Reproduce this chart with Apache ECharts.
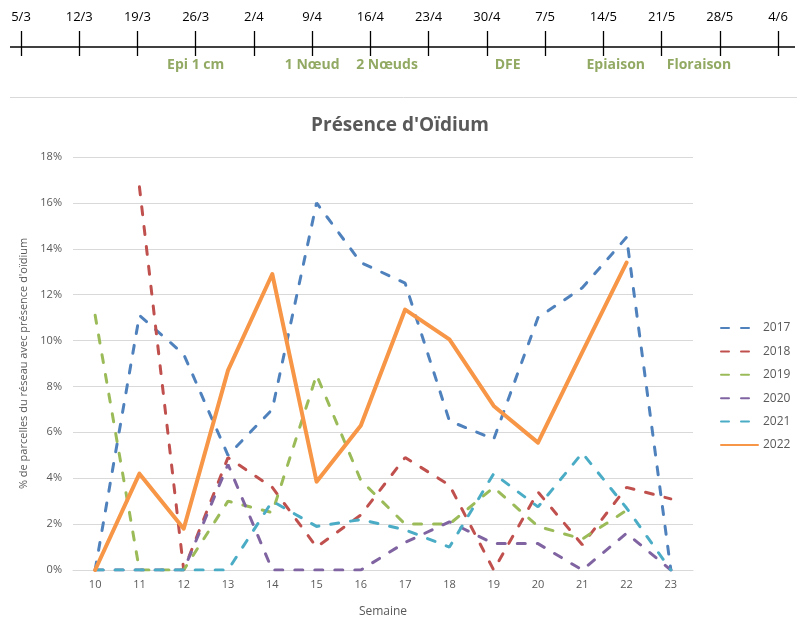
<!DOCTYPE html>
<html>
<head>
<meta charset="utf-8">
<script src="https://cdn.jsdelivr.net/npm/echarts@6/dist/echarts.min.js"></script>
<style>
  html, body { margin: 0; padding: 0; background: #fff; }
  #chart { width: 800px; height: 623px; }
</style>
</head>
<body>
<div id="chart"></div>
<script>
// semaines et années
const weeks = ['10', '11', '12', '13', '14', '15', '16', '17', '18', '19', '20', '21', '22', '23'];
const years = ['2017', '2018', '2019', '2020', '2021', '2022'];

// % de parcelles avec présence d'oïdium
const s2017 = [0, 11.1, 9.4, 5.0, 7.0, 16.0, 13.4, 12.5, 6.5, 5.7, 11.0, 12.3, 14.5, 0];
const s2018 = [null, 16.7, 0, 4.9, 3.6, 1.0, 2.4, 4.9, 3.7, 0, 3.4, 1.1, 3.6, 3.1];
const s2019 = [11.1, 0, 0, 3.0, 2.5, 8.5, 3.9, 2.0, 2.0, 3.6, 1.9, 1.35, 2.6, null];
const s2020 = [0, 0, 0, 4.6, 0, 0, 0, 1.2, 2.1, 1.15, 1.15, 0, 1.6, 0];
const s2021 = [0, 0, 0, 0, 3.0, 1.9, 2.2, 1.75, 1.0, 4.2, 2.75, 5.1, 2.7, 0];
const s2022 = [0, 4.2, 1.8, 8.7, 12.9, 3.85, 6.3, 11.35, 10.05, 7.15, 5.55, 9.5, 13.4, null];

// frise : dates (une par semaine) et stades, en jours depuis le 5/3
const timelineDates = ['5/3', '12/3', '19/3', '26/3', '2/4', '9/4', '16/4', '23/4', '30/4', '7/5', '14/5', '21/5', '28/5', '4/6'];
const stageNames = ['Epi 1 cm', '1 Nœud', '2 Nœuds', 'DFE', 'Epiaison', 'Floraison'];
const stageDays = [21, 35, 44, 58.5, 71.5, 81.5];

const colors = ['#4F81BD', '#C0504D', '#9BBB59', '#8064A2', '#4BACC6', '#F79646'];
const allSeries = [s2017, s2018, s2019, s2020, s2021, s2022];
const font = 'Open Sans';
const grey = '#595959';

let chart = echarts.init(document.getElementById('chart'));

let lineSeries = allSeries.map(function (d, i) {
    let last = i === allSeries.length - 1;
    return {
        name: years[i],
        type: 'line',
        xAxisIndex: 0,
        yAxisIndex: 0,
        data: d,
        symbol: 'none',
        color: colors[i],
        lineStyle: last
            ? {width: 4, color: colors[i], cap: 'round', join: 'round'}
            : {width: 3, color: colors[i], type: [8, 12], cap: 'round'}
    };
});

const option = {
    animation: false,
    textStyle: {fontFamily: font},
    title: {
        text: "Présence d'Oïdium",
        left: 'center',
        top: 111,
        textStyle: {fontFamily: font, fontSize: 19, fontWeight: 'bold', color: grey}
    },
    legend: {
        data: years,
        orient: 'vertical',
        left: 715,
        top: 317,
        itemWidth: 37,
        itemHeight: 14,
        itemGap: 11.4,
        itemStyle: {opacity: 0},
        textStyle: {fontFamily: font, fontSize: 12, color: grey}
    },
    grid: [
        {left: 73, right: 107, top: 157, bottom: 46},
        {left: 21, right: 22, top: 31, height: 25}
    ],
    xAxis: [
        {
            gridIndex: 0,
            type: 'category',
            data: weeks,
            boundaryGap: true,
            name: 'Semaine',
            nameLocation: 'middle',
            nameGap: 36,
            nameTextStyle: {fontFamily: font, fontSize: 12, color: grey},
            axisLine: {lineStyle: {color: '#d9d9d9'}},
            axisTick: {show: false},
            axisLabel: {fontFamily: font, fontSize: 11, color: grey, margin: 9}
        },
        {
            gridIndex: 1,
            type: 'value',
            min: 0,
            max: 91,
            interval: 7,
            position: 'top',
            axisLine: {show: false},
            axisTick: {show: false},
            axisLabel: {
                fontFamily: font, fontSize: 13, color: '#000', margin: 7,
                formatter: function (v) { return timelineDates[Math.round(v / 7)]; }
            },
            splitLine: {show: true, lineStyle: {color: '#000', width: 1.3}}
        }
    ],
    yAxis: [
        {
            gridIndex: 0,
            type: 'value',
            min: 0,
            max: 18,
            interval: 2,
            name: "% de parcelles du réseau avec présence d'oïdium",
            nameLocation: 'middle',
            nameRotate: 90,
            nameGap: 44,
            nameTextStyle: {fontFamily: font, fontSize: 11, color: grey},
            axisLine: {show: false},
            axisTick: {show: false},
            axisLabel: {fontFamily: font, fontSize: 11, color: grey, margin: 11,
                formatter: function (v) { return v + '%'; }},
            splitLine: {lineStyle: {color: '#d9d9d9', width: 1}}
        },
        {
            gridIndex: 1,
            type: 'value',
            min: -9,
            max: 16,
            show: false
        }
    ],
    graphic: [
        {type: 'line', shape: {x1: 10, y1: 47, x2: 795, y2: 47}, style: {stroke: '#000', lineWidth: 1.3}},
        {type: 'line', shape: {x1: 10, y1: 97.5, x2: 797, y2: 97.5}, style: {stroke: '#d9d9d9', lineWidth: 1}}
    ],
    series: lineSeries.concat([{
        name: 'stades',
        type: 'scatter',
        xAxisIndex: 1,
        yAxisIndex: 1,
        symbolSize: 1,
        itemStyle: {color: 'rgba(0,0,0,0)'},
        data: stageDays.map(function (d, i) { return {name: stageNames[i], value: [d, 0]}; }),
        label: {
            show: true,
            position: 'bottom',
            distance: 11,
            formatter: '{b}',
            fontFamily: font,
            fontSize: 14,
            fontWeight: 'bold',
            color: '#77933C'
        }
    }])
};

chart.setOption(option);

window.addEventListener('resize', function () {
    chart.resize();
});
</script>
</body>
</html>
